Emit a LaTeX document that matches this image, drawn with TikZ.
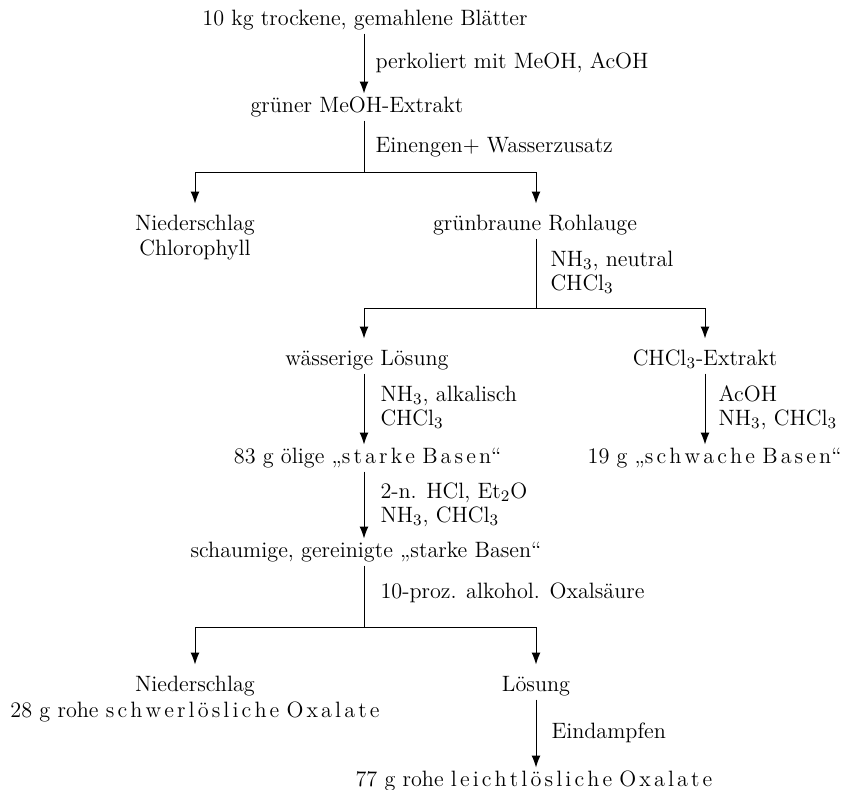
\documentclass[tikz,border=0pt]{standalone}
\usepackage{fontspec}
\usepackage{tikz}
\usetikzlibrary{arrows.meta, positioning}
\makeatletter
\newcommand\gesperrt[1]{\@tfor\sp@z:=#1\do{\sp@z\kern.14em}\unkern}
\makeatother
\tikzstyle{stoff}=[inner xsep=0pt, inner ysep=2pt, text height=7pt, text depth=2pt, anchor=base, font=\fontsize{11.1}{12}\selectfont]
\tikzstyle{reagenz}=[inner sep=0pt, anchor=base west, align=left, font=\fontsize{11.1}{12}\selectfont]
\tikzstyle{pfeil}=[-{Latex[length=6pt, width=4.5pt]}]
\tikzstyle{zweig}=[pfeil, shorten >=4pt]

\begin{document}
\begin{tikzpicture}[x=0.5pt, y=-0.5pt, line width=0.5pt]
	\useasboundingbox (0,0) rectangle (844,789);
	\coordinate (L) at (195,0);
	\coordinate (A) at (364,0);
	\coordinate (B) at (536,0);
	\coordinate (C) at (705,0);

	\node[stoff] (blaetter) at (365,25) {10 kg trockene, gemahlene Blätter};
	\node[stoff] (extrakt) at (357,112) {grüner MeOH-Extrakt};
	\node[stoff] (chlorophyllN) at (195,230) {Niederschlag};
	\node[stoff] (chlorophyll) at (195,255) {Chlorophyll};
	\node[stoff] (rohlauge) at (535,230) {grünbraune Rohlauge};
	\node[stoff] (waessrig) at (367,365) {wässerige Lösung};
	\node[stoff] (chcl) at (705,365) {CHCl$_3$-Extrakt};
	\node[stoff, anchor=base east] (starkeA) at (502,463) {83 g ölige „\gesperrt{starke}\ \gesperrt{Basen}“};
	\node[stoff, anchor=base east] (schwache) at (842,463) {19 g „\gesperrt{schwache}\ \gesperrt{Basen}“};
	\node[stoff] (starkeB) at (366,557) {schaumige, gereinigte „starke Basen“};
	\node[stoff] (oxalatN) at (195,691) {Niederschlag};
	\node[stoff] (schwer) at (195,717) {28 g rohe \gesperrt{schwerlösliche}\ \gesperrt{Oxalate}};
	\node[stoff] (loesung) at (536,691) {Lösung};
	\node[stoff, anchor=base west] (leicht) at (355,786) {77 g rohe \gesperrt{leichtlösliche}\ \gesperrt{Oxalate}};

	\node[reagenz] (r1) at (375,68) {perkoliert mit MeOH, AcOH};
	\node[reagenz] (r2) at (375,152) {Einengen+ Wasserzusatz};
	\node[reagenz] (r3) at (550,290) {NH$_3$, neutral\\CHCl$_3$};
	\node[reagenz] (r4) at (380,425) {NH$_3$, alkalisch\\CHCl$_3$};
	\node[reagenz] (r5) at (718,425) {AcOH\\NH$_3$, CHCl$_3$};
	\node[reagenz] (r6) at (380,522) {2-n. HCl, Et$_2$O\\NH$_3$, CHCl$_3$};
	\node[reagenz] (r7) at (380,598) {10-proz. alkohol. Oxalsäure};
	\node[reagenz] (r8) at (551,738) {Eindampfen};

	\coordinate (gabel1) at (364,172);
	\coordinate (gabel2) at (536,308);
	\coordinate (gabel3) at (364,627);

	\draw[pfeil] (blaetter.south -| A) -- (extrakt.north -| A);
	\draw (extrakt.south -| A) -- (gabel1);
	\draw[zweig] (gabel1) -| (chlorophyllN.north);
	\draw[zweig] (gabel1) -| (rohlauge.north -| B);
	\draw (rohlauge.south -| B) -- (gabel2);
	\draw[zweig] (gabel2) -| (waessrig.north -| A);
	\draw[zweig] (gabel2) -| (chcl.north -| C);
	\draw[pfeil] (waessrig.south -| A) -- (starkeA.north -| A);
	\draw[pfeil] (chcl.south -| C) -- (schwache.north -| C);
	\draw[pfeil] (starkeA.south -| A) -- (starkeB.north -| A);
	\draw (starkeB.south -| A) -- (gabel3);
	\draw[zweig] (gabel3) -| (oxalatN.north);
	\draw[zweig] (gabel3) -| (loesung.north);
	\draw[pfeil] (loesung.south) -- (leicht.north -| loesung);
\end{tikzpicture}
\end{document}
